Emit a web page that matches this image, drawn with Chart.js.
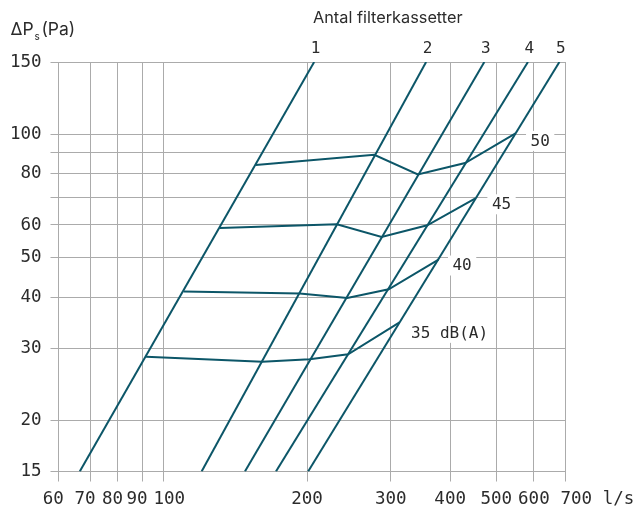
<!DOCTYPE html>
<html>
<head>
<meta charset="utf-8">
<title>Tryckfall filterkassetter</title>
<script src="https://cdn.jsdelivr.net/npm/chart.js@4.4.1/dist/chart.umd.min.js"></script>
<style>
  html, body { margin: 0; padding: 0; background: #ffffff; }
  #wrap { position: relative; width: 633px; height: 508px; }
</style>
</head>
<body>
<div id="wrap"><canvas id="chart"></canvas></div>
<script>
/* pressure drop vs. air flow, log-log */

var flowTicks = [60, 70, 80, 90, 100, 200, 300, 400, 500, 600, 700];
var pressureTicks = [15, 20, 30, 40, 50, 60, 70, 80, 90, 100, 150];
var unlabelledPressure = [70, 90];

// one straight line per number of filter cassettes, from 15 Pa to 150 Pa
var filterNames = ['1', '2', '3', '4', '5'];
var filterPa = [15, 150];
var filterFlowLow = [66.5, 120, 148, 172, 201];
var filterFlowHigh = [207, 356, 472, 583, 679];

// sound level curves, one point per filter line
var soundNames = ['35 dB(A)', '40', '45', '50'];
var sound35Flow = [91.7, 161, 202.5, 244, 313];
var sound35Pa = [28.6, 27.8, 28.2, 29.0, 34.7];
var sound40Flow = [110, 193, 243, 297, 378];
var sound40Pa = [41.3, 40.8, 39.8, 41.8, 49.4];
var sound45Flow = [131, 231, 287, 358, 452];
var sound45Pa = [59.0, 60.2, 56.1, 59.9, 69.7];
var sound50Flow = [156, 277, 342, 430, 549];
var sound50Pa = [84.0, 89.0, 79.7, 85.0, 100.4];

var LINE_COLOR = '#0c5668';
var TEXT_COLOR = '#2b2b2b';
var GRID_COLOR = '#ababab';
var MONO = '"DejaVu Sans Mono", "Liberation Mono", monospace';
var SANS = 'Inter, "Noto Sans", sans-serif';

function toPoints(xs, ys) {
  return xs.map(function (x, i) { return { x: x, y: ys[i] }; });
}

function lineDataset(points, extra) {
  var ds = {
    data: points, showLine: true, borderColor: LINE_COLOR, borderWidth: 2,
    pointRadius: 0, pointHoverRadius: 0, tension: 0, fill: false
  };
  for (var k in extra) ds[k] = extra[k];
  return ds;
}

var datasets = [];
filterNames.forEach(function (name, i) {
  datasets.push(lineDataset(toPoints([filterFlowLow[i], filterFlowHigh[i]], filterPa),
    { label: name, topTag: name }));
});
var soundSeries = [[sound35Flow, sound35Pa], [sound40Flow, sound40Pa],
  [sound45Flow, sound45Pa], [sound50Flow, sound50Pa]];
var tagOffsets = [[11.5, 10.5], [14, 6], [16.5, 6], [15, 7.5]];
soundSeries.forEach(function (s, i) {
  datasets.push(lineDataset(toPoints(s[0], s[1]),
    { label: soundNames[i], endTag: soundNames[i], tagOffset: tagOffsets[i] }));
});

var overlayPlugin = {
  id: 'overlay',
  beforeDatasetsDraw: function (chart) {
    var ctx = chart.ctx;
    ctx.save();
    ctx.font = '16px ' + MONO;
    ctx.textBaseline = 'middle';
    ctx.textAlign = 'left';
    chart.data.datasets.forEach(function (ds, i) {
      if (!ds.endTag) return;
      var meta = chart.getDatasetMeta(i);
      var p = meta.data[meta.data.length - 1];
      var x = p.x + ds.tagOffset[0], y = p.y + ds.tagOffset[1];
      var w = ctx.measureText(ds.endTag).width;
      ctx.fillStyle = '#ffffff';
      ctx.fillRect(x - 4.5, y - 10, w + 9, 20);
      ctx.fillStyle = TEXT_COLOR;
      ctx.fillText(ds.endTag, x, y + 0.5);
    });
    ctx.restore();
  },
  afterDraw: function (chart) {
    var ctx = chart.ctx, area = chart.chartArea;
    ctx.save();
    ctx.fillStyle = TEXT_COLOR;
    ctx.textBaseline = 'alphabetic';
    ctx.textAlign = 'left';

    // y axis title: ΔPs (Pa)
    ctx.font = '17.5px ' + SANS;
    ctx.fillText('\u0394P', 10.5, 35);
    var x = 10.5 + ctx.measureText('\u0394P').width + 1;
    ctx.font = '10px ' + SANS;
    ctx.fillText('s', x, 40);
    x += ctx.measureText('s').width + 1.5;
    ctx.font = '17.5px ' + SANS;
    ctx.fillText('(Pa)', x, 35);

    ctx.font = '16.3px ' + SANS;
    ctx.fillText('Antal filterkassetter', 313, 23);

    // cassette count above each line
    ctx.font = '16px ' + MONO;
    ctx.textAlign = 'center';
    ctx.textBaseline = 'middle';
    chart.data.datasets.forEach(function (ds, i) {
      if (!ds.topTag) return;
      var meta = chart.getDatasetMeta(i);
      var p = meta.data[meta.data.length - 1];
      ctx.fillText(ds.topTag, p.x + 1.5, area.top - 13);
    });

    // unit after the last flow tick
    ctx.font = '17.5px ' + MONO;
    ctx.textAlign = 'left';
    ctx.fillText('l/s', chart.scales.x.getPixelForValue(700) + 37, area.bottom + 28);
    ctx.restore();
  }
};

new Chart(document.getElementById('chart'), {
  type: 'scatter',
  data: { datasets: datasets },
  options: {
    responsive: true,
    maintainAspectRatio: false,
    animation: false,
    events: [],
    layout: { padding: { top: 62, right: 67.3, bottom: 0, left: 0 } },
    plugins: { legend: { display: false }, tooltip: { enabled: false } },
    scales: {
      x: {
        type: 'logarithmic', min: 60, max: 700,
        afterBuildTicks: function (s) { s.ticks = flowTicks.map(function (v) { return { value: v }; }); },
        afterFit: function (s) { s.height = 36.5; },
        grid: { color: GRID_COLOR, lineWidth: 1, tickLength: 10 },
        border: { display: false },
        ticks: {
          autoSkip: false, maxRotation: 0, padding: 7, color: TEXT_COLOR,
          font: { family: MONO, size: 17.5 },
          callback: function (v) {
            var t = String(v);
            if (v < 100) return t + ' ';
            if (v === 100) return ' ' + t;
            if (v === 700) return '  ' + t;
            return t;
          }
        }
      },
      y: {
        type: 'logarithmic', min: 15, max: 150,
        afterBuildTicks: function (s) { s.ticks = pressureTicks.map(function (v) { return { value: v }; }); },
        afterFit: function (s) { s.width = 58.5; },
        grid: { color: GRID_COLOR, lineWidth: 1, tickLength: 8 },
        border: { display: false },
        ticks: {
          autoSkip: false, padding: 9, color: TEXT_COLOR,
          font: { family: MONO, size: 17.5 },
          callback: function (v) {
            return unlabelledPressure.indexOf(v) >= 0 ? '' : String(v);
          }
        }
      }
    }
  },
  plugins: [overlayPlugin]
});
</script>
</body>
</html>
